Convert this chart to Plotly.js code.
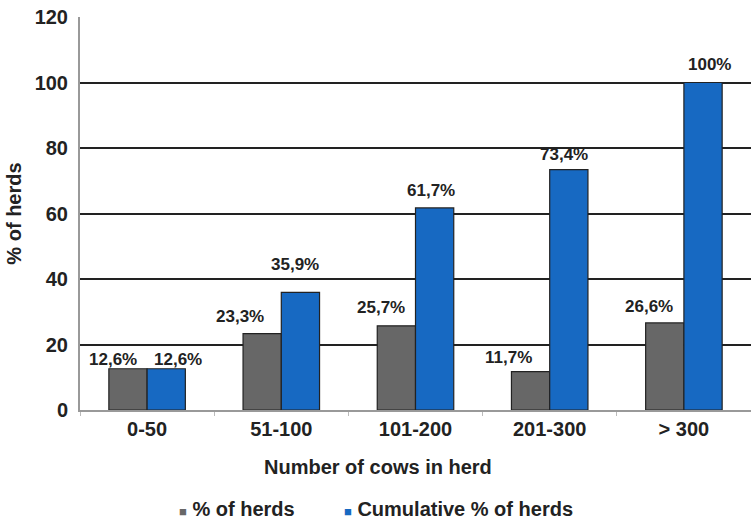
<!DOCTYPE html>
<html><head><meta charset="utf-8">
<script src="https://cdn.plot.ly/plotly-3.0.1.min.js"></script>
<style>html,body{margin:0;padding:0;background:#fff}</style>
</head><body><div id="chart" style="width:751px;height:520px"></div>
<script>
const categories = ["0-50", "51-100", "101-200", "201-300", "> 300"];
const pctHerds = [12.6, 23.3, 25.7, 11.7, 26.6];
const cumPctHerds = [12.6, 35.9, 61.7, 73.4, 100];
const pctLabels = ["12,6%", "23,3%", "25,7%", "11,7%", "26,6%"];
const cumLabels = ["12,6%", "35,9%", "61,7%", "73,4%", "100%"];
const seriesNames = ["% of herds", "Cumulative % of herds"];
const xTitle = "Number of cows in herd";
const yTitle = "% of herds";

// styling
const font = "Liberation Sans, Arial, sans-serif";
const colors = ["#676767", "#1769c2"];
const grayShift = {x: [-15, -22, -15, -22, -16], y: [9, 17, 18, 14, 16]};
const blueShift = {x: [12, -5, -4, -5, 6], y: [9, 28, 17, 15, 18]};
const groupHalf = 0.1425;

const traces = [
  {type: "bar", name: seriesNames[0], x: categories, y: pctHerds,
   marker: {color: colors[0], line: {color: "#222", width: 1.2}}},
  {type: "bar", name: seriesNames[1], x: categories, y: cumPctHerds,
   marker: {color: colors[1], line: {color: "#222", width: 1.2}}}
];

const labelFont = {family: font, size: 17, color: "#222", weight: "bold"};
const bigFont = {family: font, size: 20, color: "#222", weight: "bold"};
const annotations = [];
categories.forEach((c, i) => {
  annotations.push({xref: "x", yref: "y", x: i - groupHalf, y: pctHerds[i], text: pctLabels[i],
    showarrow: false, xanchor: "center", yanchor: "middle",
    xshift: grayShift.x[i], yshift: grayShift.y[i], font: labelFont});
  annotations.push({xref: "x", yref: "y", x: i + groupHalf, y: cumPctHerds[i], text: cumLabels[i],
    showarrow: false, xanchor: "center", yanchor: "middle",
    xshift: blueShift.x[i], yshift: blueShift.y[i], font: labelFont});
});
// x-axis title (offset left of plot centre, as in the original)
annotations.push({xref: "paper", yref: "paper", x: 0.444, y: -0.145, xanchor: "center", yanchor: "middle",
  showarrow: false, text: xTitle, font: bigFont});
// legend drawn as text with small square swatches
const legendX = [0.144, 0.39];
seriesNames.forEach((n, k) => {
  annotations.push({xref: "paper", yref: "paper", x: legendX[k], y: -0.252,
    xanchor: "left", yanchor: "middle", showarrow: false,
    text: '<span style="color:' + colors[k] + ';font-size:13px">■</span> ' + n,
    font: bigFont});
});

const layout = {
  width: 751, height: 520,
  margin: {l: 80, r: 0, t: 17, b: 110},
  paper_bgcolor: "#fff", plot_bgcolor: "#fff",
  font: {family: font, color: "#222"},
  barmode: "group", bargap: 0.43, bargroupgap: 0,
  showlegend: false,
  annotations: annotations,
  xaxis: {type: "category", showgrid: false, showline: true, linecolor: "#999", linewidth: 2,
          ticks: "outside", ticklen: 4, tickcolor: "#bbb", tickson: "boundaries",
          tickfont: bigFont},
  yaxis: {range: [0, 120], tickvals: [0, 20, 40, 60, 80, 100, 120], showgrid: true,
          gridcolor: "#222", gridwidth: 2, zeroline: false, showline: true, linecolor: "#999", linewidth: 2,
          ticks: "", ticklabelstandoff: 6,
          tickfont: bigFont,
          title: {text: yTitle, standoff: 8, font: bigFont}}
};
Plotly.newPlot("chart", traces, layout, {displayModeBar: false, staticPlot: true});
</script></body></html>
